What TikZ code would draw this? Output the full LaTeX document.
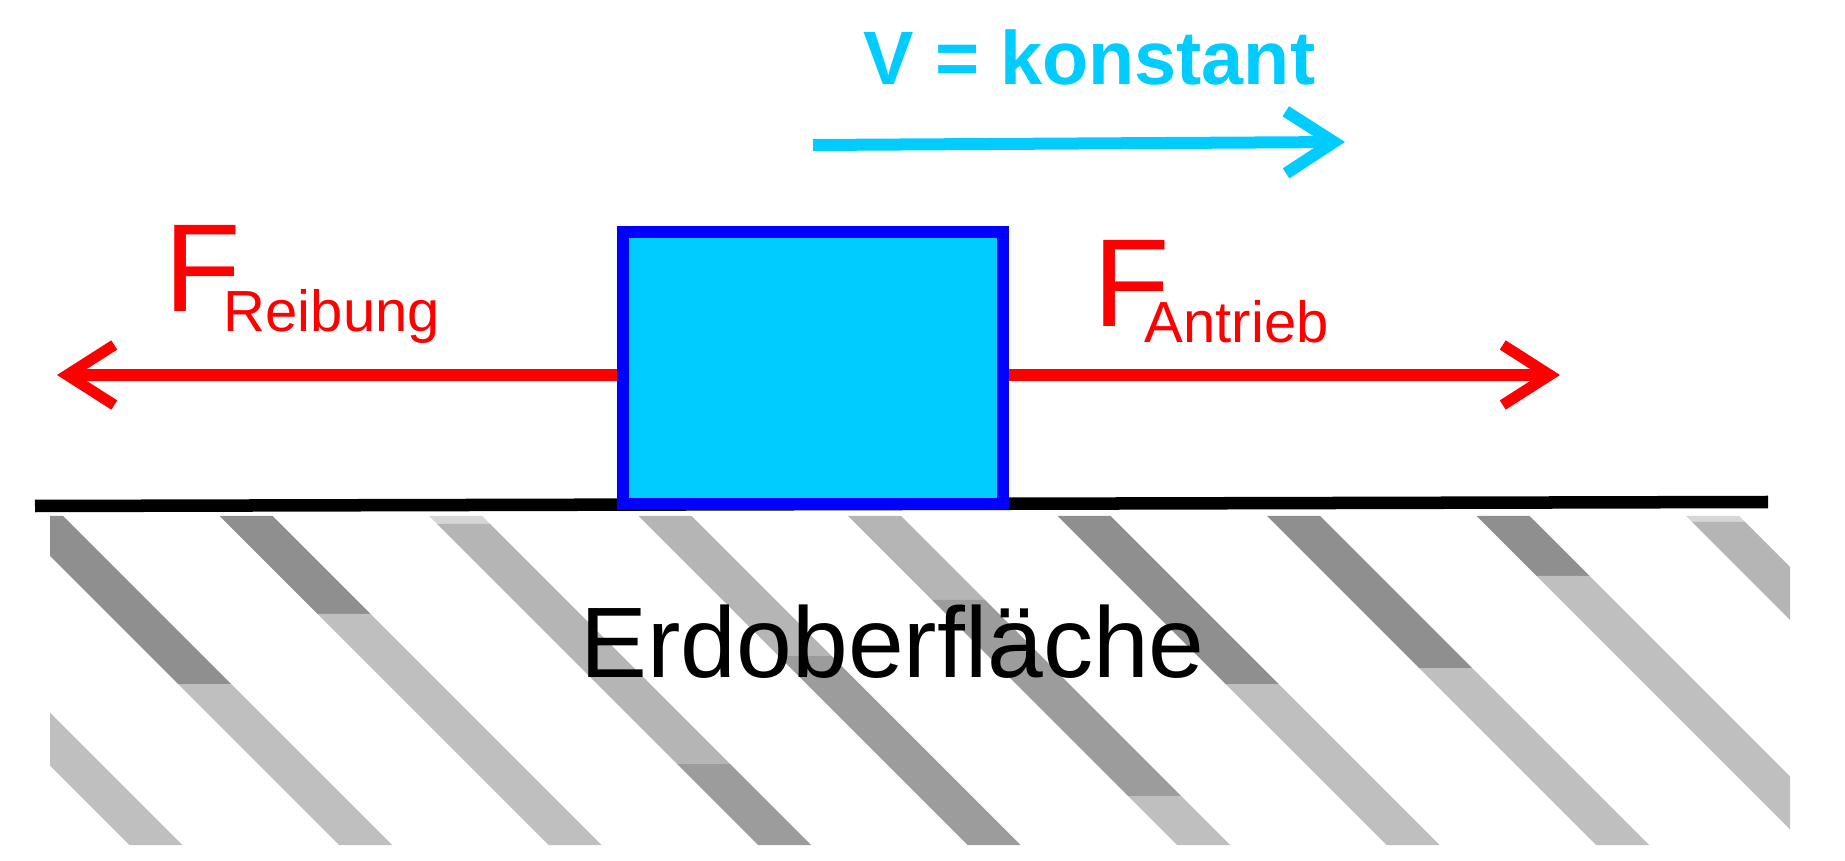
\documentclass[tikz,border=0pt]{standalone}
\usepackage{fontspec}
\setmainfont{Liberation Sans}
\usetikzlibrary{
  arrows.meta
  }
\definecolor{hellblau}{HTML}{00CCFF}
\definecolor{hell}{HTML}{BFBFBF}
\definecolor{mittel}{HTML}{B5B5B5}
\definecolor{halb}{HTML}{9C9C9C}
\definecolor{dunkel}{HTML}{8F8F8F}
\definecolor{kappe}{HTML}{D6D6D6}

\begin{document}
\begin{tikzpicture}[x=0.01cm, y=-0.01cm]
    \useasboundingbox (0,0) rectangle (1845,861);
    \def\oben{516}
    \def\unten{845}
    \def\breite{53}
    % schraffur
    \begin{scope}
    \clip (50,\oben) rectangle (1790,\unten);
    \foreach \k/\von/\bis/\farbe in {-1/0/329/hell,
        0/0/168/dunkel, 0/168/329/hell,
        1/0/98/dunkel, 1/98/329/hell,
        2/0/8/kappe, 2/8/248/mittel, 2/248/329/halb,
        3/0/140/mittel, 3/140/329/halb,
        4/0/84/mittel, 4/84/280/halb, 4/280/329/hell,
        5/0/168/dunkel, 5/168/329/hell,
        6/0/152/dunkel, 6/152/329/hell,
        7/0/60/dunkel, 7/60/329/hell,
        8/0/6/kappe, 8/6/329/mittel}
        {
        \pgfmathsetmacro\xk{10+209.5*\k}
        \fill[\farbe] (\xk+\von,\oben+\von) -- (\xk+\breite+\von,\oben+\von)
            -- (\xk+\breite+\bis,\oben+\bis) -- (\xk+\bis,\oben+\bis) -- cycle;
        }
    \end{scope}
    % boden
    \draw[line width=0.125cm] (35,506) -- (1768,502);

    \tikzset{klotz/.style = {draw=blue, fill=hellblau, line width=0.115cm, minimum width=3.8cm, minimum height=2.72cm, inner sep=0pt},
             kraft/.style = {red, line width=0.11cm, -{Straight Barb[length=0.47cm, width=0.60cm]}},
             vpfeil/.style = {hellblau, line width=0.12cm, -{Straight Barb[length=0.48cm, width=0.62cm]}},
             titel/.style = {text=hellblau, font=\bfseries\fontsize{21.5}{24}\selectfont, inner sep=0pt, anchor=base west},
             gross/.style = {text=red, font=\fontsize{35.6}{40}\selectfont, inner sep=0pt, anchor=base west},
             klein/.style = {text=red, font=\fontsize{16.5}{19}\selectfont, inner sep=0pt, anchor=base west},
             erde/.style = {font=\fontsize{28.5}{32}\selectfont, inner sep=0pt, anchor=base west}}

    % klotz
    \node [klotz] (block) at (813,368) {};
    % kraefte
    \coordinate (lspitze) at (57,375);
    \coordinate (rspitze) at (1560,375);
    \draw[kraft] (block.west |- lspitze) -- (lspitze);
    \draw[kraft] (block.east |- rspitze) -- (rspitze);
    % geschwindigkeit
    \coordinate (vstart) at (813,145);
    \coordinate (vspitze) at (1345,142);
    \draw[vpfeil] (vstart) -- (vspitze);

    \node [titel] (v) at (863,85) {V = konstant};
    \node [gross] (fr) at (164,312) {F};
    \node [klein] (ir) at (223,332) {Reibung};
    \node [gross] (fa) at (1093,327) {F};
    \node [klein] (ia) at (1144,343) {Antrieb};
    \node [erde] (boden) at (580,677) {Erdoberfläche};

\end{tikzpicture}
\end{document}
